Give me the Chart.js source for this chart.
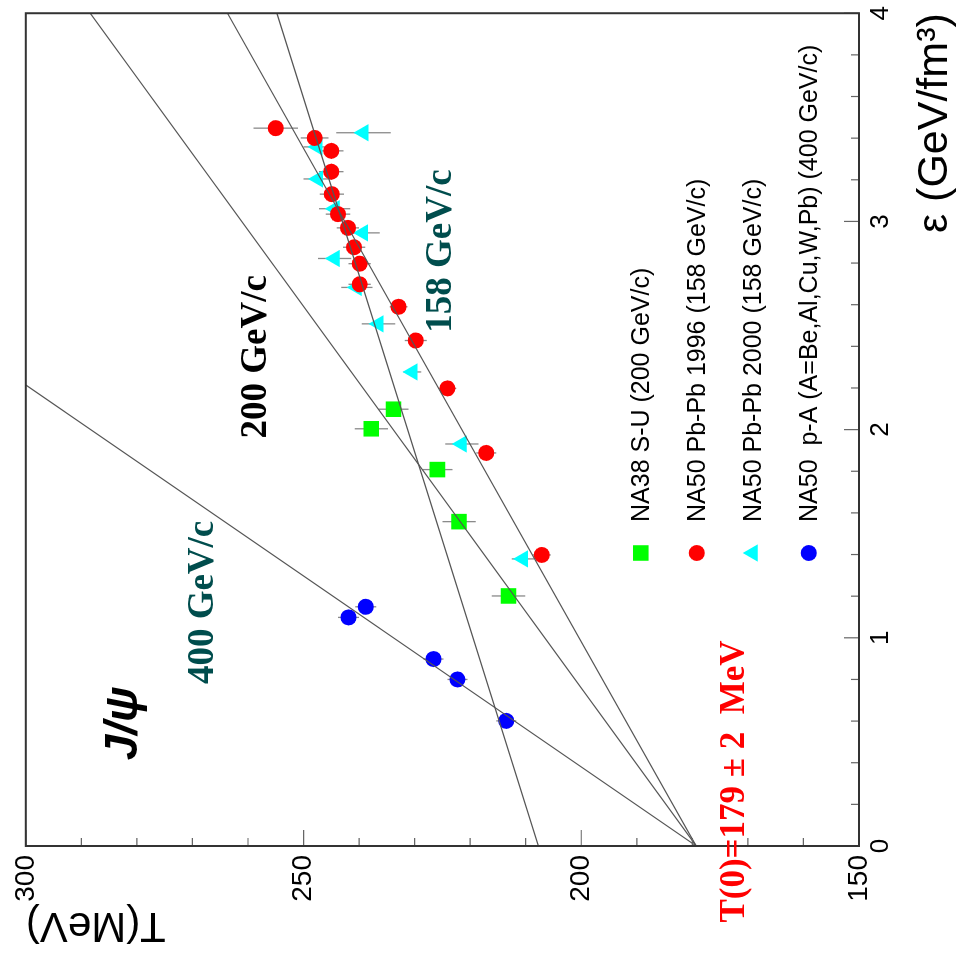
<!DOCTYPE html>
<html>
<head>
<meta charset="utf-8">
<script src="https://cdn.jsdelivr.net/npm/chart.js@4.4.1/dist/chart.umd.min.js"></script>
<style>
  body { margin: 0; background: #fff; overflow: hidden; }
  /* the chart is drawn upright and the whole box turned a quarter turn to the left */
  #wrap { position: absolute; left: 0; top: 0; width: 957px; height: 961px;
          transform-origin: 0 0; transform: translate(0, 957px) rotate(-90deg); }
</style>
</head>
<body>
<div id="wrap"><canvas id="chart" width="957" height="961"></canvas></div>
<script>
// energy density eps (GeV/fm^3), temperature T (MeV), error on T (MeV)
const suEps = [2.098, 2.004, 1.808, 1.558, 1.201];
const suT   = [233.8, 237.8, 225.9, 222.0, 213.1];
const suErr = [2.7, 3.0, 2.7, 3.0, 3.0];

const pb96Eps = [3.448, 3.401, 3.339, 3.239, 3.131, 3.035, 2.969, 2.876, 2.797, 2.698, 2.590, 2.428, 2.198, 1.888, 1.398];
const pb96T   = [255.0, 248.0, 245.0, 245.0, 244.9, 243.8, 242.0, 240.9, 239.9, 239.9, 232.9, 229.8, 224.1, 217.1, 207.1];
const pb96Err = [4.0, 2.5, 2.2, 2.2, 2.2, 2.2, 2.0, 2.0, 2.0, 2.0, 1.6, 2.0, 1.6, 1.8, 1.6];

const pb00Eps = [3.426, 3.358, 3.204, 3.061, 2.945, 2.822, 2.683, 2.508, 2.277, 1.931, 1.379];
const pb00T   = [239.2, 247.5, 247.4, 244.4, 239.3, 244.4, 240.4, 236.5, 230.4, 221.5, 210.5];
const pb00Err = [4.9, 2.5, 2.6, 2.8, 3.0, 3.0, 2.8, 3.0, 1.6, 3.0, 2.0];

const paEps = [1.098, 1.149, 0.898, 0.800, 0.601];
const paT   = [241.9, 238.8, 226.6, 222.3, 213.5];
const paErr = [1.9, 1.9, 1.8, 1.8, 1.8];

// straight lines, two end points each
const line400Eps = [0, 2.214];
const line400T   = [179.3, 300];
const line200Eps = [0, 4];
const line200T   = [179.3, 288.4];
const line158Eps = [0, 4];
const line158T   = [179.3, 263.7];
const lineBEps   = [0, 4];
const lineBT     = [207.7, 254.8];

const epsTicks = [0, 1, 2, 3, 4];
const tTicks = [150, 200, 250, 300];

const SANS = '"Liberation Sans", Arial, sans-serif';
const SERIF = '"Liberation Serif", "Times New Roman", serif';

function pts(xs, ys) {
  return xs.map((x, i) => ({ x: x, y: ys[i] }));
}

function fitLine(xs, ys) {
  return {
    type: 'line', data: pts(xs, ys), showLine: true, fill: false,
    borderColor: '#555', borderWidth: 1.2, pointRadius: 0, pointHoverRadius: 0
  };
}

function markers(label, xs, ys, errs, color, style, radius) {
  return {
    type: 'scatter', label: label, data: pts(xs, ys), errors: errs,
    pointStyle: style, pointRadius: radius, pointHoverRadius: radius,
    backgroundColor: color, borderColor: color, borderWidth: 0
  };
}

// vertical error bars on T, under the markers
const errorBars = {
  id: 'errorBars',
  beforeDatasetsDraw(chart) {
    const ctx = chart.ctx, xs = chart.scales.x, ys = chart.scales.y, a = chart.chartArea;
    ctx.save();
    ctx.beginPath();
    ctx.rect(a.left, a.top, a.width, a.height);
    ctx.clip();
    ctx.strokeStyle = '#8a8a8a';
    ctx.lineWidth = 1.3;
    chart.data.datasets.forEach(ds => {
      if (!ds.errors) return;
      ds.data.forEach((p, i) => {
        const px = xs.getPixelForValue(p.x);
        ctx.beginPath();
        ctx.moveTo(px, ys.getPixelForValue(p.y - ds.errors[i]));
        ctx.lineTo(px, ys.getPixelForValue(p.y + ds.errors[i]));
        ctx.stroke();
      });
    });
    ctx.restore();
  }
};

function drawMarker(ctx, style, r, x, y) {
  ctx.beginPath();
  if (style === 'rect') {
    const s = r * Math.SQRT1_2;
    ctx.rect(x - s, y - s, 2 * s, 2 * s);
  } else if (style === 'triangle') {
    for (let k = 0; k < 3; k++) {
      const ang = k * 2 * Math.PI / 3;
      const px = x + Math.sin(ang) * r, py = y - Math.cos(ang) * r;
      if (k === 0) ctx.moveTo(px, py); else ctx.lineTo(px, py);
    }
    ctx.closePath();
  } else {
    ctx.arc(x, y, r, 0, Math.PI * 2);
  }
  ctx.fill();
}

// frame, inner ticks, legend and the text labels
const decorations = {
  id: 'decorations',
  afterDraw(chart) {
    const ctx = chart.ctx, xs = chart.scales.x, ys = chart.scales.y, a = chart.chartArea;
    ctx.save();

    // ticks pointing into the frame
    ctx.strokeStyle = '#666';
    ctx.lineWidth = 1.2;
    ctx.beginPath();
    for (let k = 0; k <= 20; k++) {
      const e = k * 0.2;
      const px = xs.getPixelForValue(e);
      const len = k % 5 === 0 ? 15 : 8;
      ctx.moveTo(px, a.bottom);
      ctx.lineTo(px, a.bottom - len);
    }
    for (let t = 150; t <= 300; t += 10) {
      const py = ys.getPixelForValue(t);
      const len = t % 50 === 0 ? 16 : 8;
      ctx.moveTo(a.left, py);
      ctx.lineTo(a.left + len, py);
    }
    ctx.stroke();

    // frame
    ctx.strokeStyle = '#333';
    ctx.lineWidth = 2;
    ctx.strokeRect(a.left, a.top, a.width, a.height);

    // legend inside the frame
    ctx.textAlign = 'left';
    ctx.textBaseline = 'middle';
    ctx.font = '25px ' + SANS;
    let row = 0;
    chart.data.datasets.forEach(ds => {
      if (!ds.errors) return;
      const y = a.top + 615 + row * 56;
      ctx.fillStyle = ds.backgroundColor;
      drawMarker(ctx, ds.pointStyle, ds.pointRadius, a.left + 293, y);
      ctx.fillStyle = '#000';
      ctx.fillText(ds.label, a.left + 324, y + 1);
      row++;
    });

    // annotations, placed in data units
    const notes = [
      { text: 'J/\u03c8', eps: 0.589, t: 282.2, font: 'bold italic 46px ' + SANS, color: '#000' },
      { text: '400 GeV/c', eps: 1.170, t: 268.0, font: 'bold 37px ' + SERIF, color: '#004d4d' },
      { text: '200 GeV/c', eps: 2.350, t: 258.5, font: 'bold 37px ' + SERIF, color: '#000' },
      { text: '158 GeV/c', eps: 2.858, t: 225.2, font: 'bold 37px ' + SERIF, color: '#004d4d' },
      { text: 'T(0)=179 \u00b1 2  MeV', eps: 0.310, t: 172.4, font: 'bold 35px ' + SERIF, color: '#ff0000' }
    ];
    ctx.textAlign = 'center';
    notes.forEach(n => {
      ctx.font = n.font;
      ctx.fillStyle = n.color;
      ctx.fillText(n.text, xs.getPixelForValue(n.eps), ys.getPixelForValue(n.t));
    });

    ctx.restore();
  }
};

new Chart(document.getElementById('chart'), {
  type: 'scatter',
  data: {
    datasets: [
      fitLine(line400Eps, line400T),
      fitLine(line200Eps, line200T),
      fitLine(line158Eps, line158T),
      fitLine(lineBEps, lineBT),
      markers('NA38 S-U (200 GeV/c)', suEps, suT, suErr, '#00ff00', 'rect', 11),
      markers('NA50 Pb-Pb 1996 (158 GeV/c)', pb96Eps, pb96T, pb96Err, '#ff0000', 'circle', 8),
      markers('NA50 Pb-Pb 2000 (158 GeV/c)', pb00Eps, pb00T, pb00Err, '#00ffff', 'triangle', 10),
      markers('NA50  p-A (A=Be,Al,Cu,W,Pb) (400 GeV/c)', paEps, paT, paErr, '#0000ff', 'circle', 8)
    ]
  },
  options: {
    responsive: false,
    animation: false,
    layout: { padding: { top: 21, right: 6, left: 0, bottom: 0 } },
    plugins: { legend: { display: false }, tooltip: { enabled: false } },
    scales: {
      x: {
        type: 'linear', position: 'bottom', min: 0, max: 4,
        grid: { display: false, drawTicks: false },
        border: { display: false },
        afterBuildTicks: s => { s.ticks = epsTicks.map(v => ({ value: v })); },
        afterFit: s => { s.height = 102; },
        ticks: { color: '#000', padding: 6, maxRotation: 0, font: { family: SANS, size: 26 } },
        title: {
          display: true, text: '\u03b5 (GeV/fm\u00b3)', align: 'end', color: '#000',
          padding: { top: 0, bottom: 0 }, font: { family: SANS, size: 43 }
        }
      },
      y: {
        type: 'linear', position: 'left', min: 150, max: 300,
        grid: { display: false, drawTicks: false },
        border: { display: false },
        afterBuildTicks: s => { s.ticks = tTicks.map(v => ({ value: v })); },
        afterFit: s => { s.width = 111; },
        ticks: { color: '#000', padding: 9, font: { family: SANS, size: 28 } },
        title: {
          display: true, text: 'T(MeV)', align: 'end', color: '#000',
          padding: { top: 7, bottom: 0 }, font: { family: SANS, size: 42 }
        }
      }
    }
  },
  plugins: [errorBars, decorations]
});
</script>
</body>
</html>
